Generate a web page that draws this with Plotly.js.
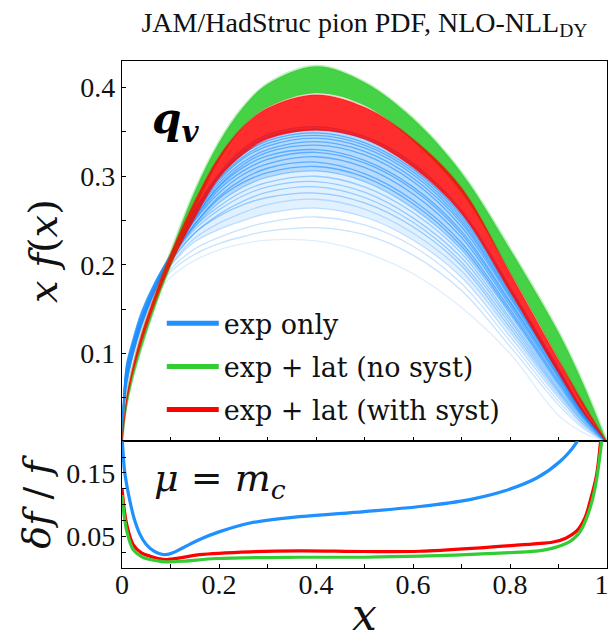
<!DOCTYPE html>
<html><head><meta charset="utf-8">
<script src="https://cdn.plot.ly/plotly-3.0.1.min.js"></script>
<style>html,body{margin:0;padding:0;background:#fff;}#chart{width:611px;height:640px;}</style>
</head><body><div id="chart"></div>
<script>
// ---------- data ----------
const xGrid = [0, 0.005, 0.01, 0.02, 0.04, 0.07, 0.1, 0.15, 0.2, 0.25, 0.3, 0.4, 0.5, 0.6, 0.7, 0.8, 0.9, 0.95, 1];

// exp only replicas (x f(x)), ordered from highest to lowest peak
const blue01 = [0, .044, .066, .092, .130, .174, .210, .262, .303, .331, .347, .356, .345, .315, .262, .175, .083, .036, 0];
const blue02 = [0, .052, .075, .099, .137, .178, .211, .262, .301, .328, .344, .353, .342, .312, .259, .173, .082, .036, 0];
const blue03 = [0, .046, .068, .094, .132, .175, .209, .259, .299, .325, .340, .349, .338, .308, .256, .171, .081, .035, 0];
const blue04 = [0, .060, .084, .106, .143, .181, .212, .260, .297, .322, .337, .346, .335, .305, .253, .169, .080, .034, 0];
const blue05 = [0, .049, .072, .096, .134, .176, .209, .257, .295, .320, .334, .343, .332, .302, .250, .167, .079, .034, 0];
const blue06 = [0, .056, .079, .102, .139, .179, .210, .256, .292, .316, .330, .339, .328, .298, .247, .165, .078, .033, 0];
const blue07 = [0, .047, .069, .094, .132, .174, .207, .253, .289, .313, .327, .335, .324, .294, .243, .163, .077, .033, 0];
const blue08 = [0, .063, .088, .109, .145, .182, .211, .254, .288, .310, .323, .330, .318, .288, .238, .159, .075, .032, 0];
const blue09 = [0, .053, .076, .099, .136, .177, .208, .251, .285, .306, .319, .327, .315, .285, .235, .157, .074, .031, 0];
const blue10 = [0, .057, .081, .104, .140, .179, .209, .250, .281, .302, .314, .322, .310, .280, .231, .154, .072, .031, 0];
const blue11 = [0, .050, .073, .097, .134, .175, .206, .246, .277, .297, .309, .316, .303, .273, .225, .150, .069, .030, 0];
const blue12 = [0, .065, .090, .111, .147, .183, .210, .246, .275, .293, .304, .311, .299, .269, .221, .147, .067, .029, 0];
const blue13 = [0, .054, .078, .101, .137, .177, .206, .243, .270, .288, .299, .306, .294, .264, .217, .144, .065, .028, 0];
const blue14 = [0, .059, .083, .105, .141, .179, .207, .243, .266, .283, .293, .300, .288, .259, .213, .140, .063, .027, 0];
const blue15 = [0, .061, .085, .107, .143, .180, .206, .240, .262, .278, .288, .294, .282, .253, .208, .137, .060, .026, 0];
const blue16 = [0, .051, .074, .098, .134, .174, .203, .236, .257, .272, .282, .288, .276, .248, .203, .133, .058, .024, 0];
const blue17 = [0, .064, .089, .110, .145, .180, .204, .236, .255, .268, .276, .281, .270, .243, .199, .129, .056, .023, 0];
const blue18 = [0, .056, .080, .102, .138, .175, .200, .230, .247, .259, .268, .274, .263, .236, .193, .125, .053, .021, 0];
const blue19 = [0, .062, .086, .107, .142, .176, .199, .226, .240, .250, .258, .264, .254, .228, .186, .119, .050, .020, 0];
const blue20 = [0, .058, .082, .104, .139, .172, .195, .218, .231, .241, .248, .254, .245, .221, .179, .114, .046, .018, 0];
const blue21 = [0, .060, .084, .105, .140, .171, .192, .212, .224, .232, .238, .242, .234, .211, .171, .108, .042, .016, 0];
const blue22 = [0, .055, .078, .100, .136, .165, .186, .205, .217, .224, .228, .227, .214, .190, .152, .100, .030, .011, 0];

// exp + lat (no syst) envelope
const greenUpper = [0, .030, .052, .078, .120, .168, .213, .283, .338, .378, .404, .424, .406, .365, .304, .218, .124, .067, 0];
const greenLower = [0, .022, .040, .066, .105, .155, .198, .263, .318, .356, .378, .394, .380, .340, .282, .192, .094, .042, 0];
// exp + lat (with syst) envelope
const redUpper = [0, .030, .053, .080, .122, .170, .212, .272, .322, .356, .377, .392, .378, .342, .287, .191, .093, .045, 0];
const redLower = [0, .026, .046, .073, .112, .160, .200, .253, .298, .325, .342, .352, .342, .310, .258, .170, .078, .034, 0];

// relative uncertainty delta f / f
const blueRelX = [0, 0.005, 0.01, 0.0165, 0.025, 0.037, 0.05, 0.065, 0.08, 0.09, 0.105, 0.126, 0.16, 0.2, 0.264, 0.367, 0.5, 0.614, 0.717, 0.786, 0.855, 0.903, 0.937, 0.96];
const blueRel  = [0.21, 0.155, 0.13, 0.105, 0.078, 0.053, 0.037, 0.027, 0.022, 0.021, 0.024, 0.032, 0.045, 0.057, 0.071, 0.081, 0.089, 0.097, 0.108, 0.121, 0.142, 0.168, 0.198, 0.235];
const redRelX = [0, 0.005, 0.01, 0.023, 0.04, 0.058, 0.075, 0.092, 0.12, 0.16, 0.264, 0.367, 0.5, 0.614, 0.752, 0.85, 0.889, 0.915, 0.937, 0.955, 0.965, 0.978, 0.986, 0.992];
const redRel  = [0.126, 0.09, 0.068, 0.037, 0.024, 0.0186, 0.015, 0.0134, 0.016, 0.021, 0.0255, 0.027, 0.026, 0.0264, 0.0327, 0.038, 0.041, 0.047, 0.058, 0.08, 0.105, 0.145, 0.194, 0.24];
const greenRelX = [0, 0.005, 0.01, 0.023, 0.04, 0.058, 0.075, 0.092, 0.13, 0.195, 0.367, 0.5, 0.614, 0.752, 0.875, 0.924, 0.945, 0.958, 0.97, 0.979, 0.989, 0.995];
const greenRel  = [0.115, 0.08, 0.058, 0.029, 0.018, 0.0134, 0.011, 0.0097, 0.011, 0.015, 0.017, 0.017, 0.0186, 0.0228, 0.029, 0.042, 0.058, 0.079, 0.108, 0.142, 0.2, 0.24];

const seriesNames = ['exp only', 'exp + lat (no syst)', 'exp + lat (with syst)'];
const xTickVals = [0, 0.1, 0.2, 0.3, 0.4, 0.5, 0.6, 0.7, 0.8, 0.9, 1];
const xTickText = ['0', '', '0.2', '', '0.4', '', '0.6', '', '0.8', '', '1\u2009\u2009'];
const yTopTickVals = [0.05, 0.1, 0.15, 0.2, 0.25, 0.3, 0.35, 0.4];
const yTopTickText = ['', '0.1', '', '0.2', '', '0.3', '', '0.4'];
const yBotTickVals = [0.025, 0.05, 0.075, 0.1, 0.125, 0.15, 0.175];
const yBotTickText = ['', '0.05', '', '', '', '0.15', ''];

// ---------- styling ----------
const BLUE = '#1E90FF', GREEN = '#32CD32', RED = '#FF0000';
const rgba = (hex, a) => {
  const n = parseInt(hex.slice(1), 16);
  return `rgba(${(n >> 16) & 255},${(n >> 8) & 255},${n & 255},${a})`;
};
const SERIF = 'Liberation Serif';
const MATH = 'DejaVu Serif';

const traces = [];
function band(lo, hi, color, alpha) {
  traces.push({x: xGrid, y: lo, type: 'scatter', mode: 'lines', line: {width: 0, shape: 'spline'}, showlegend: false, hoverinfo: 'skip', xaxis: 'x', yaxis: 'y'});
  traces.push({x: xGrid, y: hi, type: 'scatter', mode: 'lines', line: {width: 0, shape: 'spline'}, fill: 'tonexty', fillcolor: rgba(color, alpha), showlegend: false, hoverinfo: 'skip', xaxis: 'x', yaxis: 'y'});
}
function curve(y, color, alpha, w) {
  traces.push({x: xGrid, y: y, type: 'scatter', mode: 'lines', line: {color: rgba(color, alpha), width: w, shape: 'spline'}, showlegend: false, hoverinfo: 'skip', xaxis: 'x', yaxis: 'y'});
}

// exp only ensemble
const blueSet = [blue01, blue02, blue03, blue04, blue05, blue06, blue07, blue08, blue09, blue10, blue11,
                 blue12, blue13, blue14, blue15, blue16, blue17, blue18, blue19, blue20, blue21];
band(blue13, blue01, BLUE, 0.32);
band(blue19, blue13, BLUE, 0.13);
blueSet.forEach((b, i) => curve(b, BLUE, i < 12 ? 0.6 : (i < 17 ? 0.4 : 0.25), 1.3));
curve(blue22, BLUE, 0.15, 1.3);

// exp + lat (no syst)
band(greenLower, greenUpper, GREEN, 0.9);
curve(greenUpper, GREEN, 0.3, 3);
curve(greenLower, GREEN, 0.5, 1.2);

// exp + lat (with syst)
band(redLower, redUpper, RED, 0.82);
curve(redUpper, RED, 0.25, 2);
curve(redLower, RED, 0.5, 1.2);

// legend entries
[BLUE, GREEN, RED].forEach((c, i) => {
  traces.push({x: [null], y: [null], type: 'scatter', mode: 'lines', name: seriesNames[i], legendgroup: 'g' + i,
    line: {color: c, width: 5}, xaxis: 'x', yaxis: 'y'});
});

// bottom panel
[[blueRelX, blueRel, BLUE], [redRelX, redRel, RED], [greenRelX, greenRel, GREEN]].forEach(([xx, yy, c]) => {
  traces.push({x: xx, y: yy, type: 'scatter', mode: 'lines', line: {color: c, width: 3.2, shape: 'spline', smoothing: 1}, showlegend: false, hoverinfo: 'skip', xaxis: 'x2', yaxis: 'y2'});
});

const axisCommon = {showline: true, linecolor: '#000', linewidth: 1.2, mirror: true, ticks: 'inside', ticklen: 4, tickwidth: 1, tickcolor: '#000', showgrid: false, zeroline: false,
  ticklabeloverflow: 'allow', tickfont: {family: SERIF, size: 28, color: '#111'}};

const layout = {
  width: 611, height: 640,
  margin: {l: 122, r: 4, t: 61, b: 72},
  paper_bgcolor: '#fff', plot_bgcolor: '#fff',
  showlegend: true,
  title: {text: 'JAM/HadStruc pion PDF, NLO-NLL<sub>DY</sub>', font: {family: SERIF, size: 28, color: '#111'}, x: 0.5, xref: 'paper', y: 0.966, yref: 'container', yanchor: 'middle'},
  xaxis: Object.assign({}, axisCommon, {domain: [0, 1], anchor: 'y', range: [0, 1], tickvals: xTickVals, showticklabels: false}),
  yaxis: Object.assign({}, axisCommon, {domain: [0.25, 1], anchor: 'x', range: [0.001, 0.43], tickvals: yTopTickVals, ticktext: yTopTickText,
    title: {text: '<i>x f</i>(<i>x</i>)', font: {family: MATH, size: 40, color: '#111'}, standoff: 10}}),
  xaxis2: Object.assign({}, axisCommon, {domain: [0, 1], anchor: 'y2', range: [0, 1], tickvals: xTickVals, ticktext: xTickText, ticklabelstandoff: -9,
    title: {text: '<i>x</i>', font: {family: MATH, size: 44, color: '#111'}, standoff: 14}}),
  yaxis2: Object.assign({}, axisCommon, {domain: [0, 0.25], anchor: 'x2', range: [0, 0.2], tickvals: yBotTickVals, ticktext: yBotTickText,
    title: {text: '<i>δf</i> / <i>f</i>', font: {family: MATH, size: 38, color: '#111'}, standoff: 4}}),
  legend: {x: 0.082, y: 0.53, xanchor: 'left', yanchor: 'top', bgcolor: 'rgba(0,0,0,0)', borderwidth: 0,
    font: {family: MATH, size: 27, color: '#111'}, traceorder: 'grouped', tracegroupgap: 5, itemwidth: 52},
  annotations: [
    {text: '<b><i>q</i></b><sub><b><i>v</i></b></sub>', xref: 'paper', yref: 'paper', x: 0.058, y: 0.88, xanchor: 'left', yanchor: 'middle', showarrow: false, font: {family: MATH, size: 42, color: '#000'}},
    {text: '<i>μ</i> = <i>m</i><sub><i>c</i></sub>', xref: 'paper', yref: 'paper', x: 0.062, y: 0.172, xanchor: 'left', yanchor: 'middle', showarrow: false, font: {family: MATH, size: 38, color: '#111'}}
  ]
};

Plotly.newPlot('chart', traces, layout, {staticPlot: true, displayModeBar: false});
</script></body></html>
